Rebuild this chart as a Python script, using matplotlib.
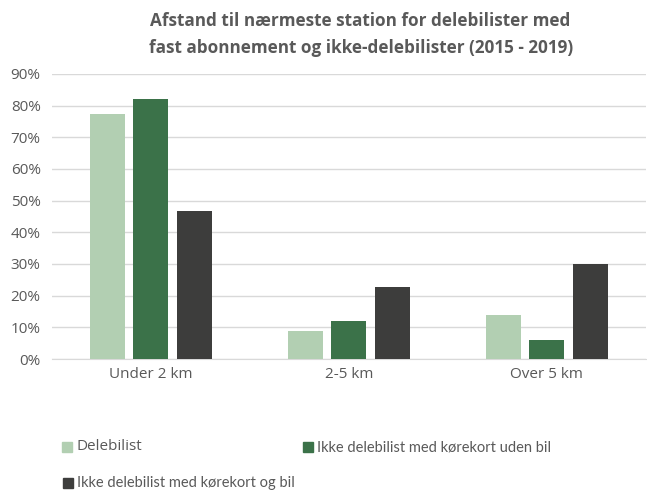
# -*- coding: utf-8 -*-
"""
Afstand til nærmeste station - grouped bar chart
"""
import matplotlib
matplotlib.use("Agg")
import matplotlib.pyplot as plt
import matplotlib.patches as mpatches
import numpy as np

# data
categories = ["Under 2 km", "2-5 km", "Over 5 km"]
series_names = ["Delebilist",
                "Ikke delebilist med kørekort uden bil",
                "Ikke delebilist med kørekort og bil"]
delebilist = [77.3, 8.9, 13.8]
uden_bil = [82.0, 11.9, 5.9]
med_bil = [46.7, 22.7, 30.0]
yticks = [0, 10, 20, 30, 40, 50, 60, 70, 80, 90]

colors = ["#b2cfb2", "#3b7249", "#3d3d3c"]
text_col = "#595959"

plt.rcParams["font.family"] = ["Open Sans", "DejaVu Sans"]

fig = plt.figure(figsize=(6.47, 4.90), dpi=100)
ax = fig.add_axes([0.080, 0.2673, 0.918, 0.582])

x = np.arange(len(categories))
width = 0.177
gap = 0.22
values = [delebilist, uden_bil, med_bil]
for i in range(3):
    ax.bar(x + (i - 1) * gap, values[i], width, color=colors[i], zorder=3)

ax.set_xlim(-0.5, 2.5)
ax.set_ylim(0, 90)
ax.set_yticks(yticks)
ax.set_yticklabels([str(t) + "%" for t in yticks], fontsize=11, color=text_col)
ax.set_xticks(x)
ax.set_xticklabels(categories, fontsize=11, color=text_col)
ax.tick_params(axis="both", length=0, pad=6)
ax.tick_params(axis="y", pad=8)
ax.grid(axis="y", color="#d9d9d9", linewidth=1, zorder=0)
for s in ["top", "right", "left"]:
    ax.spines[s].set_visible(False)
ax.spines["bottom"].set_color("#d9d9d9")

fig.text(0.556, 0.958, "Afstand til nærmeste station for delebilister med",
         ha="center", va="center", fontsize=12.3, fontweight="bold", color=text_col)
fig.text(0.558, 0.903, "fast abonnement og ikke-delebilister (2015 - 2019)",
         ha="center", va="center", fontsize=12.3, fontweight="bold", color=text_col)

# legend placed by hand
leg_pos = [(62, 447), (303, 447), (63, 483)]
leg_fonts = [["Open Sans"], ["Lato", "DejaVu Sans"], ["Lato", "DejaVu Sans"]]
leg_sizes = [11, 10.5, 10.5]
for i in range(3):
    px, py = leg_pos[i]
    fig.patches.append(mpatches.Rectangle((px / 647, 1 - (py + 5) / 490), 10 / 647, 10 / 490,
                                          transform=fig.transFigure, color=colors[i]))
    fig.text((px + 14) / 647, 1 - py / 490, series_names[i], ha="left", va="center",
             fontsize=leg_sizes[i], color=text_col, family=leg_fonts[i])

plt.savefig("out.png")
